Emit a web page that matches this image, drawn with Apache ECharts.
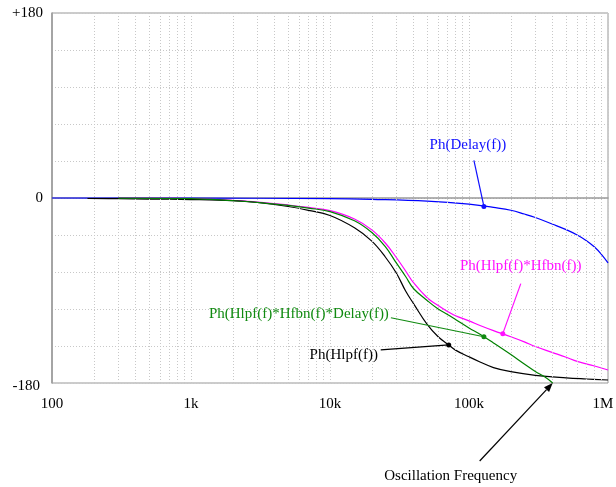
<!DOCTYPE html>
<html><head><meta charset="utf-8">
<script src="https://cdn.jsdelivr.net/npm/echarts@6/dist/echarts.min.js"></script>
<style>html,body{margin:0;padding:0;background:#fff}#c{width:616px;height:487px}</style>
</head><body><div id="c"></div>
<script>
// Frequencies (Hz) and phases (degrees)
var blackF = [180, 300, 500, 1000, 2000, 3000, 5000, 7000, 10000, 15000, 20000, 25000, 30000, 35000, 40000, 50000, 60000, 70000, 80000, 100000, 120000, 150000, 200000, 300000, 500000, 700000, 1000000];
var blackP = [-0.5, -0.7, -1, -1.5, -2.6, -4.4, -8.3, -12, -17, -29, -42, -57.4, -73, -90.5, -103, -123, -135, -142, -148, -154.5, -159.5, -165, -169, -172.5, -175, -176.1, -177.1];

var magF = [300, 1000, 2000, 3000, 5000, 7000, 10000, 15000, 20000, 25000, 30000, 35000, 40000, 50000, 60000, 70000, 80000, 100000, 120000, 150000, 200000, 250000, 300000, 400000, 500000, 600000, 800000, 1000000];
var magP = [-0.1, -0.5, -2.4, -3.9, -6.8, -9.2, -12.3, -20.4, -31, -43.8, -57.9, -71, -82.7, -97, -104.6, -110.4, -114.6, -119.5, -124, -129, -135, -140, -144.5, -150.4, -155, -159, -163.5, -167.4];

var grnF = [300, 1000, 2000, 3000, 5000, 7000, 10000, 15000, 20000, 25000, 30000, 35000, 40000, 50000, 60000, 70000, 80000, 100000, 120000, 150000, 200000, 250000, 300000, 350000, 400000];
var grnP = [-0.1, -0.6, -2.6, -4.2, -7.2, -9.8, -13.2, -22.2, -33.6, -47.2, -63.2, -76.4, -88.3, -99.7, -108, -113.3, -118.2, -126.5, -132.5, -141, -152.3, -161.5, -168.8, -174, -180];

var bluF = [100, 1000, 10000, 20000, 50000, 100000, 150000, 200000, 250000, 300000, 400000, 500000, 600000, 700000, 800000, 900000, 1000000];
var bluP = [0, -0.1, -0.6, -1.3, -3, -6, -9.2, -11.9, -15.6, -19, -25.5, -30.8, -36, -41.5, -47.7, -55, -63.2];

var yTicks = {"180": "+180", "0": "0", "-180": "{lo|-180}"};
var xTicks = {"100": "100", "1000": "1k", "10000": "10k", "100000": "100k", "1000000": "{end|1M}"};
var minorF = [200,300,400,500,600,700,800,900,2000,3000,4000,5000,6000,7000,8000,9000,20000,30000,40000,50000,60000,70000,80000,90000,200000,300000,400000,500000,600000,700000,800000,900000];

// annotation anchors (data coords)
var notes = [
  {text: "Ph(Delay(f))", color: "#1010ff", at: [128000, -8.2], from: [-10, -46], label: [-16, -61]},
  {text: "Ph(Hlpf(f)*Hfbn(f))", color: "#ff10ff", at: [175000, -132], from: [18, -50], label: [18, -68]},
  {text: "Ph(Hlpf(f)*Hfbn(f)*Delay(f))", color: "#108a10", at: [128000, -135], from: [-93, -19], label: [-185, -23]},
  {text: "Ph(Hlpf(f))", color: "#000000", at: [71500, -143], from: [-68, 5], label: [-105, 10]}
];
var osc = {text: "Oscillation Frequency", at: [400000, -180], from: [-73, 78], label: [-102, 93]};

function pairs(f, p) { return f.map(function (v, i) { return [v, p[i]]; }); }
var FONT = "Liberation Serif";

var chart = echarts.init(document.getElementById('c'));
function ser(name, f, p, color, z) {
  return {name: name, type: 'line', data: pairs(f, p), showSymbol: false, smooth: 0.4,
    lineStyle: {color: color, width: 1.2}, z: z, clip: true, animation: false};
}
var series = [
  ser('blue', bluF, bluP, '#0000ff', 3),
  ser('black', blackF, blackP, '#000000', 4),
  ser('mag', magF, magP, '#ff00ff', 3),
  ser('grn', grnF, grnP, '#008000', 5)
];
series[0].markLine = {silent: true, symbol: 'none', animation: false, label: {show: false},
  lineStyle: {color: '#c8c8c8', type: [1, 2], width: 1},
  data: minorF.map(function (v) { return {xAxis: v}; })};

chart.setOption({
  animation: false,
  grid: {left: 52, right: 8, top: 13, bottom: 104, show: true, borderColor: '#999', borderWidth: 1,
    containLabel: false, outerBoundsMode: 'none'},
  xAxis: {type: 'log', logBase: 10, min: 100, max: 1000000,
    axisLine: {show: true, lineStyle: {color: '#999', width: 1.5}},
    axisTick: {show: false},
    splitLine: {show: true, lineStyle: {color: '#c8c8c8', type: [1, 2]}},
    axisLabel: {color: '#000', fontFamily: FONT, fontSize: 15, margin: 14,
      rich: {end: {fontFamily: FONT, fontSize: 15, color: '#000', padding: [0, 10, 0, 0]}},
      formatter: function (v) { return xTicks[String(Math.round(v))] || ''; }}
  },
  yAxis: {type: 'value', min: -180, max: 180, interval: 36,
    axisLine: {show: true, lineStyle: {color: '#999', width: 1.5}},
    axisTick: {show: false},
    splitLine: {show: true, lineStyle: {color: '#c8c8c8', type: [1, 2]}},
    axisLabel: {color: '#000', fontFamily: FONT, fontSize: 15, margin: 9,
      rich: {lo: {fontFamily: FONT, fontSize: 15, color: '#000', padding: [6, 3, 0, 0]}},
      formatter: function (v) { return yTicks[String(v)] || ''; }}
  },
  series: series
});

var g = [];
notes.forEach(function (n) {
  var p = chart.convertToPixel({gridIndex: 0}, n.at);
  g.push({type: 'line', shape: {x1: p[0] + n.from[0], y1: p[1] + n.from[1], x2: p[0], y2: p[1]},
    style: {stroke: n.color, lineWidth: 1.2}, z: 100});
  g.push({type: 'circle', shape: {cx: p[0], cy: p[1], r: 2.5}, style: {fill: n.color}, z: 101});
  g.push({type: 'text', x: p[0] + n.label[0], y: p[1] + n.label[1], z: 102,
    style: {text: n.text, fill: n.color, font: '15px "' + FONT + '"', textAlign: 'center', textVerticalAlign: 'middle'}});
});
(function () {
  var p = chart.convertToPixel({gridIndex: 0}, osc.at);
  var x1 = p[0] + osc.from[0], y1 = p[1] + osc.from[1];
  var ang = Math.atan2(p[1] - y1, p[0] - x1);
  var L = 9, W = 3.5;
  var bx = p[0] - L * Math.cos(ang), by = p[1] - L * Math.sin(ang);
  g.push({type: 'line', shape: {x1: x1, y1: y1, x2: bx, y2: by}, style: {stroke: '#000', lineWidth: 1.2}, z: 100});
  g.push({type: 'polygon', shape: {points: [[p[0], p[1]],
    [bx + W * Math.sin(ang), by - W * Math.cos(ang)],
    [bx - W * Math.sin(ang), by + W * Math.cos(ang)]]}, style: {fill: '#000'}, z: 101});
  g.push({type: 'text', x: p[0] + osc.label[0], y: p[1] + osc.label[1], z: 102,
    style: {text: osc.text, fill: '#000', font: '15px "' + FONT + '"', textAlign: 'center', textVerticalAlign: 'middle'}});
})();
chart.setOption({graphic: g});
</script></body></html>
